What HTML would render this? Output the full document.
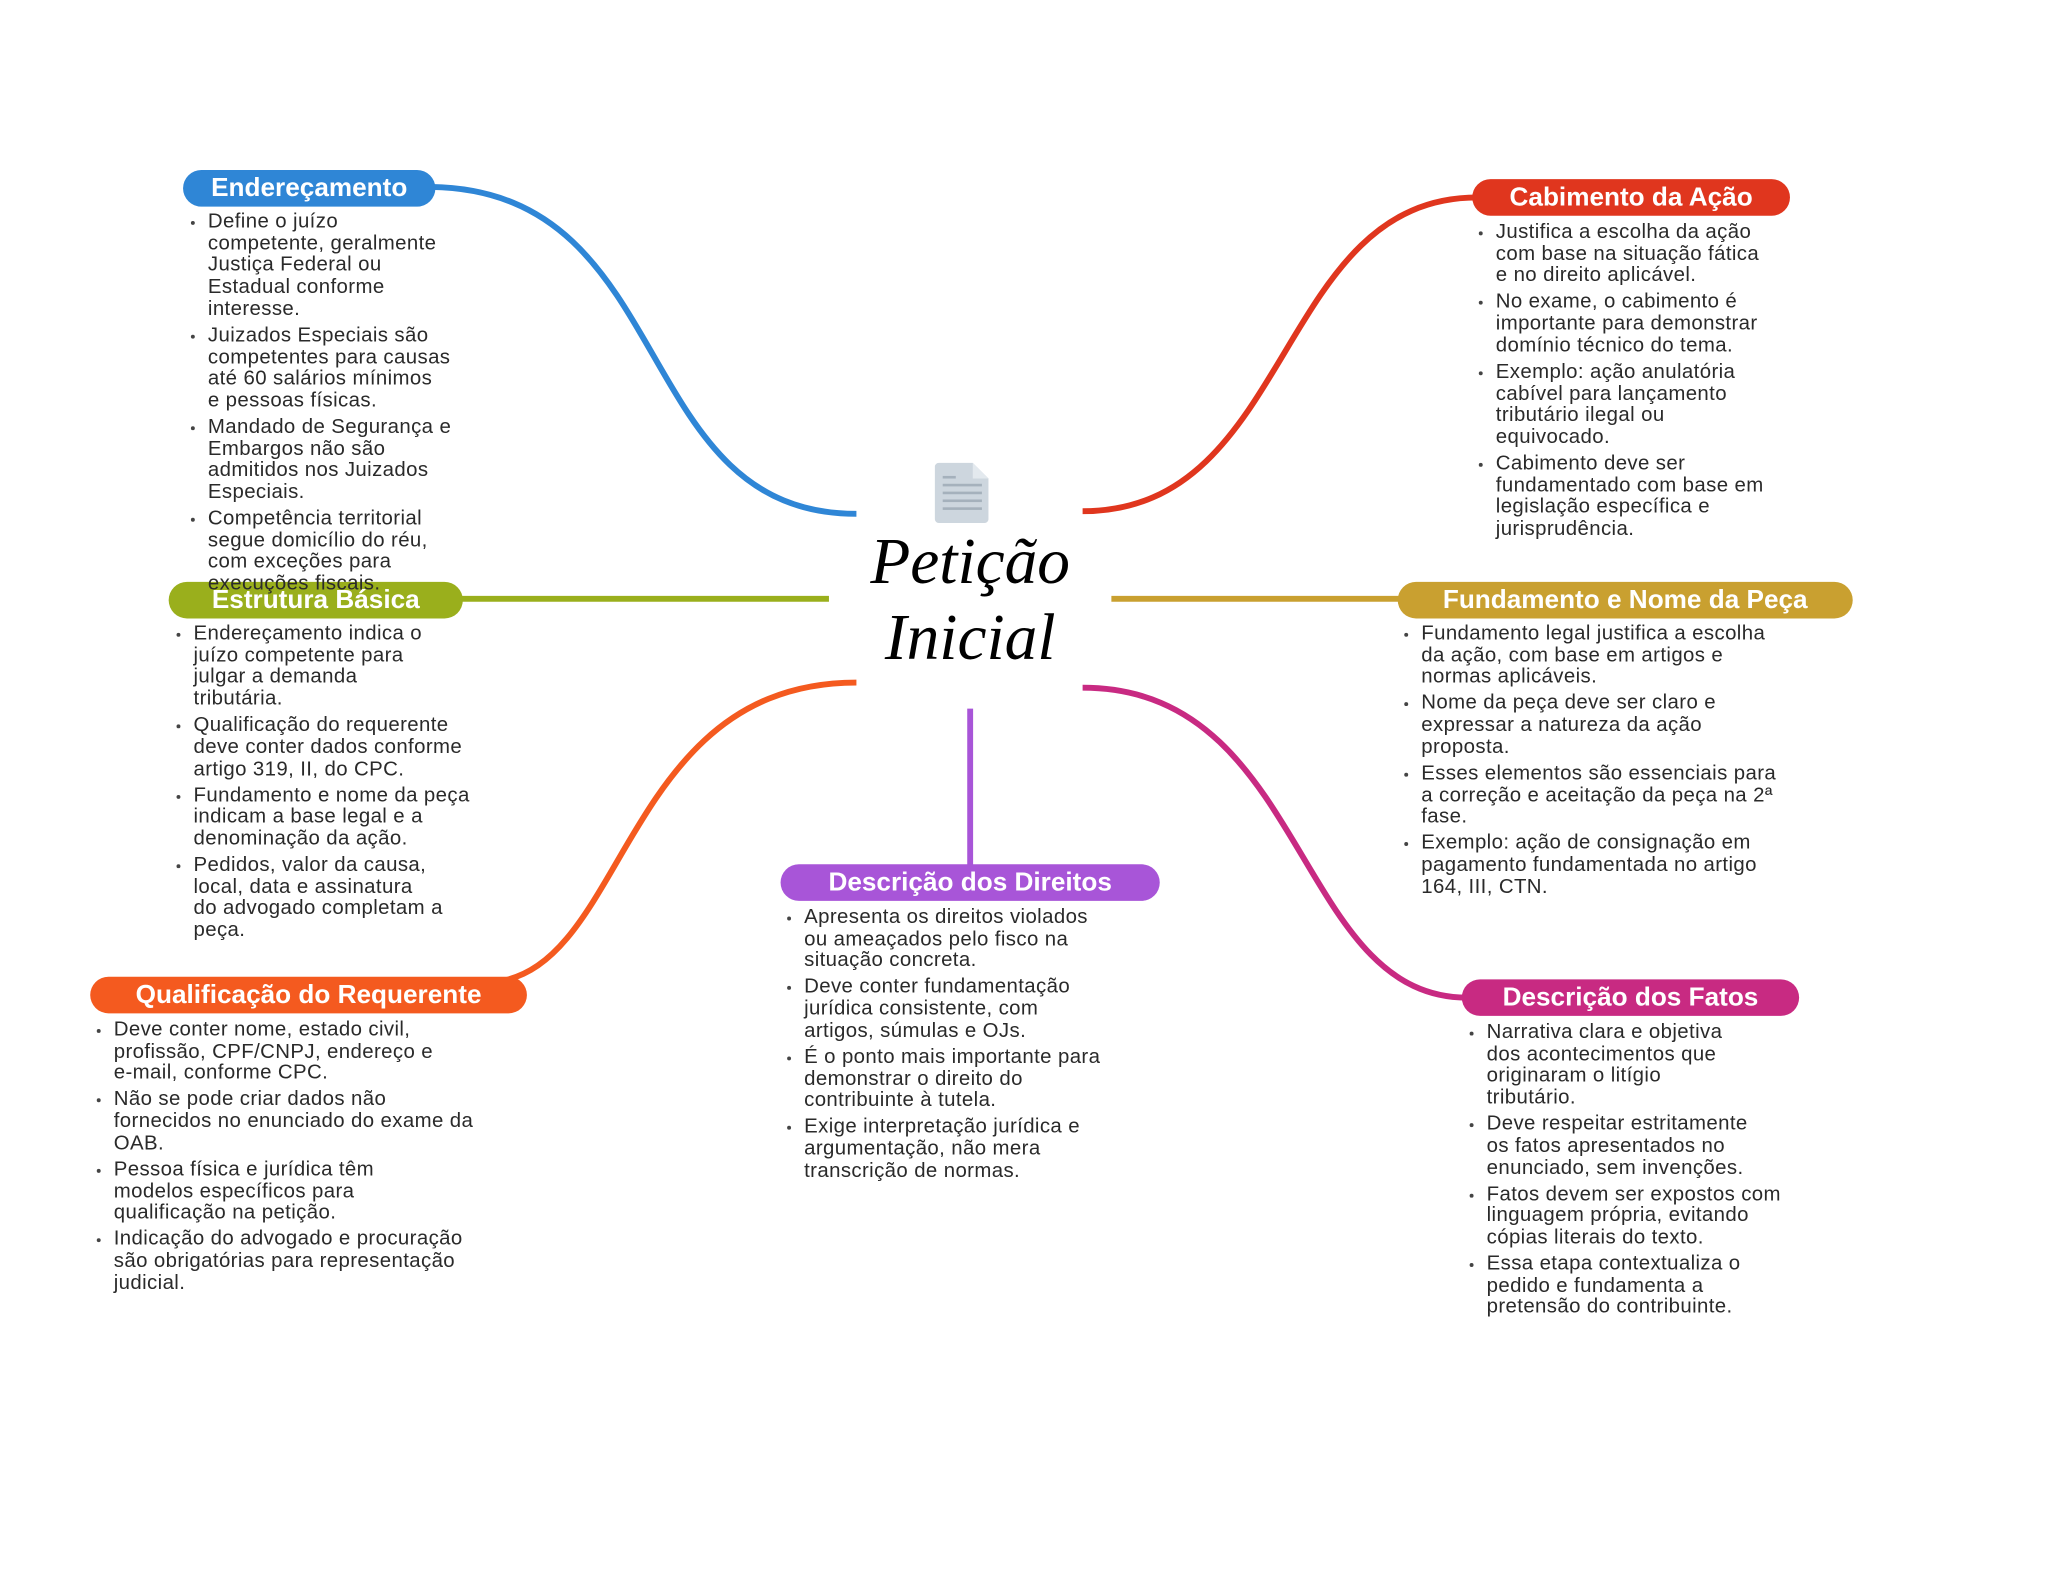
<!DOCTYPE html>
<html><head><meta charset="utf-8">
<style>
html,body{margin:0;padding:0;background:#fff;}
body{width:2048px;height:1569px;overflow:hidden;position:relative;}
#w{position:absolute;left:0;top:0;width:1552px;height:1189px;transform:scale(1.3075);transform-origin:0 0;font-family:"Liberation Sans",sans-serif;}
.pill{position:absolute;height:28px;border-radius:14px;color:#fff;font-weight:bold;font-size:20px;line-height:28px;text-align:center;white-space:nowrap;}
ul{position:absolute;margin:0;padding:0;list-style:none;font-size:15.6px;letter-spacing:0.3px;line-height:16.7px;color:#2a2a2a;white-space:nowrap;}
li{position:relative;padding-left:13px;margin-bottom:3.3px;}
li:before{content:"";position:absolute;left:0;top:7px;width:3px;height:3px;border-radius:50%;background:#444;}
.t{position:absolute;font-family:"Liberation Serif",serif;font-style:italic;font-size:50px;color:#000;width:300px;text-align:center;left:592px;}
</style></head><body><div id="w">
<svg width="1552" height="1189" style="position:absolute;left:0;top:0" fill="none" stroke-width="4.5">
<path d="M330,143 C520,146 480,393 655,393" stroke="#2f86d6"/>
<path d="M828,391 C990,391 975,151 1130,151" stroke="#e0361e"/>
<path d="M352,458 L634,458" stroke="#9aaf1c"/>
<path d="M850,458 L1072,458" stroke="#c9a030"/>
<path d="M655,522 C480,522 480,730 385,750" stroke="#f45a1f"/>
<path d="M742,542 L742,663" stroke="#a855d8"/>
<path d="M828,526 C1000,526 990,763 1122,763" stroke="#c82a82"/>
<g stroke="none">
<path d="M718,354 h26 l12,12 v31 a3,3 0 0 1 -3,3 h-35 a3,3 0 0 1 -3,-3 v-40 a3,3 0 0 1 3,-3z" fill="#cdd6de"/>
<path d="M744,354 v12 h12z" fill="#e3e9ee"/>
<rect x="721" y="364" width="10" height="2" fill="#a5b1bc"/>
<rect x="721" y="370" width="30" height="2" fill="#a5b1bc"/>
<rect x="721" y="376" width="30" height="2" fill="#a5b1bc"/>
<rect x="721" y="382" width="30" height="2" fill="#a5b1bc"/>
<rect x="721" y="388" width="30" height="2" fill="#a5b1bc"/>
</g>
</svg>
<div class="t" style="top:400px">Petição</div>
<div class="t" style="top:458px">Inicial</div>

<div class="pill" style="left:140px;top:130px;width:193px;background:#2f86d6">Endereçamento</div>
<div class="pill" style="left:1126px;top:137px;width:243px;background:#e0361e">Cabimento da Ação</div>
<div class="pill" style="left:129px;top:445px;width:225px;background:#9aaf1c">Estrutura Básica</div>
<div class="pill" style="left:1069px;top:445px;width:348px;background:#c9a030">Fundamento e Nome da Peça</div>
<div class="pill" style="left:597px;top:661px;width:290px;background:#a855d8">Descrição dos Direitos</div>
<div class="pill" style="left:69px;top:747px;width:334px;background:#f45a1f">Qualificação do Requerente</div>
<div class="pill" style="left:1118px;top:749px;width:258px;background:#c82a82">Descrição dos Fatos</div>

<ul style="left:146px;top:162px">
<li>Define o juízo<br>competente, geralmente<br>Justiça Federal ou<br>Estadual conforme<br>interesse.</li>
<li>Juizados Especiais são<br>competentes para causas<br>até 60 salários mínimos<br>e pessoas físicas.</li>
<li>Mandado de Segurança e<br>Embargos não são<br>admitidos nos Juizados<br>Especiais.</li>
<li>Competência territorial<br>segue domicílio do réu,<br>com exceções para<br>execuções fiscais.</li>
</ul>
<ul style="left:1131px;top:170px">
<li>Justifica a escolha da ação<br>com base na situação fática<br>e no direito aplicável.</li>
<li>No exame, o cabimento é<br>importante para demonstrar<br>domínio técnico do tema.</li>
<li>Exemplo: ação anulatória<br>cabível para lançamento<br>tributário ilegal ou<br>equivocado.</li>
<li>Cabimento deve ser<br>fundamentado com base em<br>legislação específica e<br>jurisprudência.</li>
</ul>
<ul style="left:135px;top:477px">
<li>Endereçamento indica o<br>juízo competente para<br>julgar a demanda<br>tributária.</li>
<li>Qualificação do requerente<br>deve conter dados conforme<br>artigo 319, II, do CPC.</li>
<li>Fundamento e nome da peça<br>indicam a base legal e a<br>denominação da ação.</li>
<li>Pedidos, valor da causa,<br>local, data e assinatura<br>do advogado completam a<br>peça.</li>
</ul>
<ul style="left:1074px;top:477px">
<li>Fundamento legal justifica a escolha<br>da ação, com base em artigos e<br>normas aplicáveis.</li>
<li>Nome da peça deve ser claro e<br>expressar a natureza da ação<br>proposta.</li>
<li>Esses elementos são essenciais para<br>a correção e aceitação da peça na 2ª<br>fase.</li>
<li>Exemplo: ação de consignação em<br>pagamento fundamentada no artigo<br>164, III, CTN.</li>
</ul>
<ul style="left:602px;top:694px">
<li>Apresenta os direitos violados<br>ou ameaçados pelo fisco na<br>situação concreta.</li>
<li>Deve conter fundamentação<br>jurídica consistente, com<br>artigos, súmulas e OJs.</li>
<li>É o ponto mais importante para<br>demonstrar o direito do<br>contribuinte à tutela.</li>
<li>Exige interpretação jurídica e<br>argumentação, não mera<br>transcrição de normas.</li>
</ul>
<ul style="left:74px;top:780px">
<li>Deve conter nome, estado civil,<br>profissão, CPF/CNPJ, endereço e<br>e-mail, conforme CPC.</li>
<li>Não se pode criar dados não<br>fornecidos no enunciado do exame da<br>OAB.</li>
<li>Pessoa física e jurídica têm<br>modelos específicos para<br>qualificação na petição.</li>
<li>Indicação do advogado e procuração<br>são obrigatórias para representação<br>judicial.</li>
</ul>
<ul style="left:1124px;top:782px">
<li>Narrativa clara e objetiva<br>dos acontecimentos que<br>originaram o litígio<br>tributário.</li>
<li>Deve respeitar estritamente<br>os fatos apresentados no<br>enunciado, sem invenções.</li>
<li>Fatos devem ser expostos com<br>linguagem própria, evitando<br>cópias literais do texto.</li>
<li>Essa etapa contextualiza o<br>pedido e fundamenta a<br>pretensão do contribuinte.</li>
</ul>
</div></body></html>
